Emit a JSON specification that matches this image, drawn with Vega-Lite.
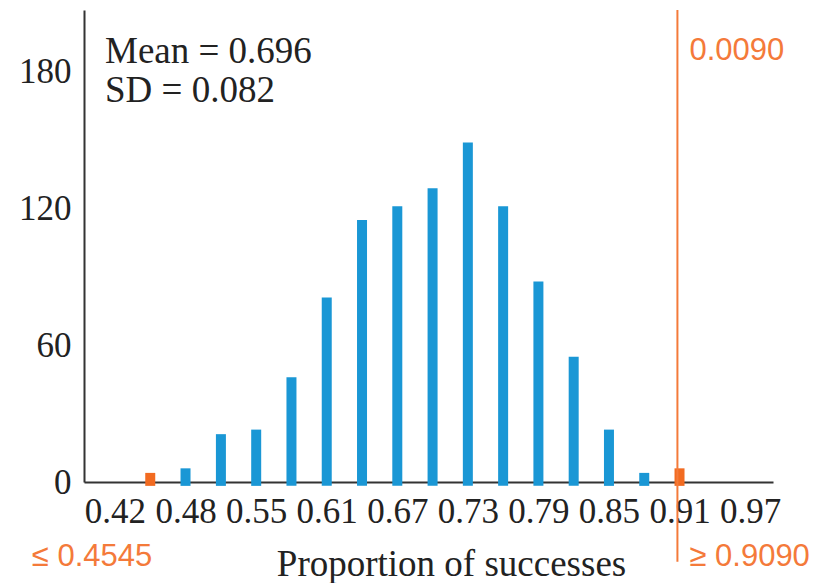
{
  "$schema": "https://vega.github.io/schema/vega-lite/v6.json",
  "width": 689,
  "height": 472,
  "autosize": "none",
  "padding": {"left": 84, "top": 10, "right": 60, "bottom": 101},
  "background": "white",
  "config": {"view": {"stroke": null}, "font": "Liberation Serif", "axis": {"zindex": 1}},
  "datasets": {
    "counts": [
      {"p": 0.4545, "count": 4, "group": "tail"},
      {"p": 0.4848, "count": 6, "group": "body"},
      {"p": 0.5152, "count": 21, "group": "body"},
      {"p": 0.5455, "count": 23, "group": "body"},
      {"p": 0.5758, "count": 46, "group": "body"},
      {"p": 0.6061, "count": 81, "group": "body"},
      {"p": 0.6364, "count": 115, "group": "body"},
      {"p": 0.6667, "count": 121, "group": "body"},
      {"p": 0.6970, "count": 129, "group": "body"},
      {"p": 0.7273, "count": 149, "group": "body"},
      {"p": 0.7576, "count": 121, "group": "body"},
      {"p": 0.7879, "count": 88, "group": "body"},
      {"p": 0.8182, "count": 55, "group": "body"},
      {"p": 0.8485, "count": 23, "group": "body"},
      {"p": 0.8788, "count": 4, "group": "body"},
      {"p": 0.9091, "count": 6, "group": "tail"}
    ],
    "one": [{"k": 1}]
  },
  "layer": [
    {
      "data": {"name": "counts"},
      "mark": {"type": "bar", "width": 10},
      "encoding": {
        "x": {
          "field": "p",
          "type": "quantitative",
          "scale": {"domain": [0.4019, 0.9851], "nice": false, "zero": false},
          "axis": {
            "values": [0.4242, 0.4848, 0.5455, 0.6061, 0.6667, 0.7273, 0.7879, 0.8485, 0.9091, 0.9697],
            "format": ".2f",
            "title": "Proportion of successes",
            "grid": false,
            "ticks": false,
            "domainColor": "#333333",
            "domainWidth": 2,
            "labelFont": "Liberation Serif",
            "labelFontSize": 35,
            "labelColor": "#222222",
            "labelPadding": 12,
            "labelFlush": false,
            "labelOverlap": false,
            "titleFont": "Liberation Serif",
            "titleFontSize": 37,
            "titleFontWeight": "normal",
            "titleColor": "#222222",
            "titleX": 367,
            "titleY": 93,
            "titleBaseline": "alphabetic",
            "titleAlign": "center"
          }
        },
        "y": {
          "field": "count",
          "type": "quantitative",
          "scale": {"domain": [0, 207.2], "nice": false},
          "axis": {
            "values": [0, 60, 120, 180],
            "title": null,
            "grid": false,
            "ticks": false,
            "domainColor": "#333333",
            "domainWidth": 2,
            "labelFont": "Liberation Serif",
            "labelFontSize": 35,
            "labelColor": "#222222",
            "labelPadding": 13
          }
        },
        "y2": {"datum": -1.7},
        "color": {
          "field": "group",
          "type": "nominal",
          "scale": {"domain": ["tail", "body"], "range": ["#f26b21", "#1a97d5"]},
          "legend": null
        }
      }
    },
    {
      "data": {"name": "one"},
      "mark": {"type": "rule", "color": "#f47a3a", "strokeWidth": 2, "clip": false},
      "encoding": {
        "x": {"datum": 0.9073},
        "y": {"datum": 207.2},
        "y2": {"datum": -35}
      }
    },
    {
      "data": {"name": "one"},
      "mark": {"type": "text", "font": "Liberation Sans", "fontSize": 31, "color": "#f47a3a", "align": "left", "baseline": "alphabetic", "dx": 12},
      "encoding": {"x": {"datum": 0.9073}, "y": {"datum": 185.3}, "text": {"value": "0.0090"}}
    },
    {
      "data": {"name": "one"},
      "mark": {"type": "text", "font": "Liberation Sans", "fontSize": 31, "color": "#f47a3a", "align": "left", "baseline": "alphabetic", "dx": 12},
      "encoding": {"x": {"datum": 0.9073}, "y": {"datum": -36.9}, "text": {"value": "≥ 0.9090"}}
    },
    {
      "data": {"name": "one"},
      "mark": {"type": "text", "font": "Liberation Sans", "fontSize": 31, "color": "#f47a3a", "align": "right", "baseline": "alphabetic", "dx": 2},
      "encoding": {"x": {"datum": 0.4545}, "y": {"datum": -36.9}, "text": {"value": "≤ 0.4545"}}
    },
    {
      "data": {"name": "one"},
      "mark": {"type": "text", "font": "Liberation Serif", "fontSize": 37, "fontWeight": "normal", "color": "#222222", "align": "left", "baseline": "alphabetic", "dx": 16},
      "encoding": {"x": {"datum": 0.4019}, "y": {"datum": 183.9}, "text": {"value": "Mean = 0.696"}}
    },
    {
      "data": {"name": "one"},
      "mark": {"type": "text", "font": "Liberation Serif", "fontSize": 37, "fontWeight": "normal", "color": "#222222", "align": "left", "baseline": "alphabetic", "dx": 16},
      "encoding": {"x": {"datum": 0.4019}, "y": {"datum": 166.8}, "text": {"value": "SD = 0.082"}}
    }
  ]
}
